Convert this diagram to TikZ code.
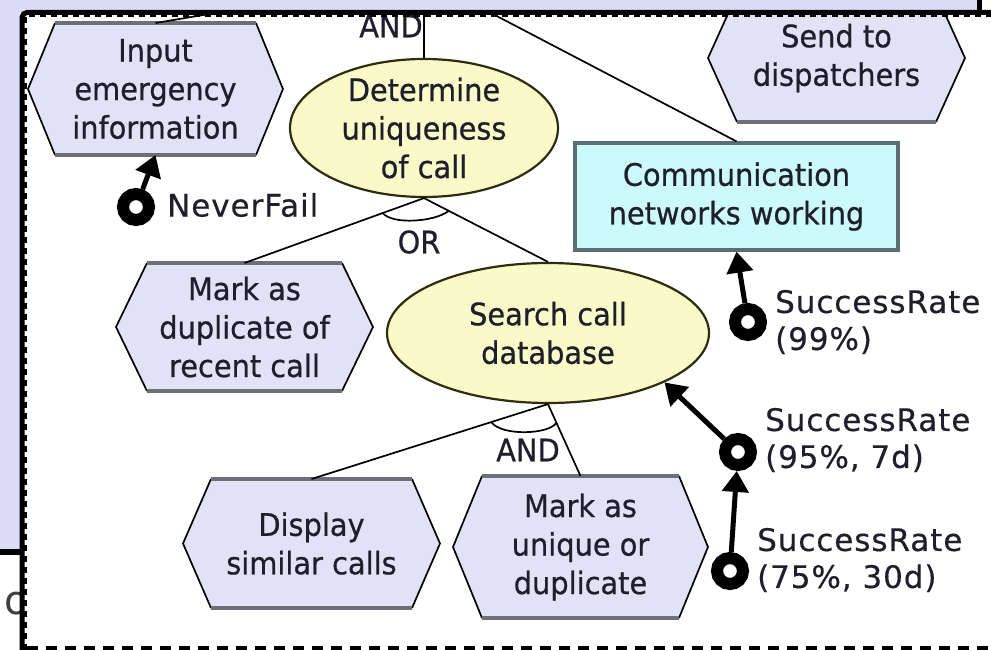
\documentclass[tikz,border=0pt]{standalone}
\usepackage{fontspec}
\setmainfont{DejaVu Sans}
\newfontfamily\goalfont[FakeStretch=0.93, FakeBold=0.6]{DejaVu Sans}
\newfontfamily\qosfont[LetterSpace=3, FakeBold=0.4]{DejaVu Sans}
\usetikzlibrary{calc, positioning, arrows.meta, shapes.geometric}

\definecolor{backlav}{RGB}{220,220,248}
\definecolor{goalfill}{RGB}{226,226,246}
\definecolor{goalline}{RGB}{110,110,118}
\definecolor{taskfill}{RGB}{250,250,200}
\definecolor{taskline}{RGB}{45,45,15}
\definecolor{resfill}{RGB}{204,250,250}
\definecolor{resline}{RGB}{90,112,112}
\definecolor{inktext}{RGB}{30,30,44}

% hexagonal goal: name, centre, width, height, inset, text
\newcommand{\hexgoal}[6]{%
	\node[hexbox, minimum width=#3pt, minimum height=#4pt] (#1) at #2 {};
	\fill[goalfill] (#1.west) -- ($(#1.north west)+(#5,0)$) -- ($(#1.north east)-(#5,0)$)
		-- (#1.east) -- ($(#1.south east)-(#5,0)$) -- ($(#1.south west)+(#5,0)$) -- cycle;
	\draw[goalside] ($(#1.north west)+(#5,0)$) -- (#1.west) -- ($(#1.south west)+(#5,0)$);
	\draw[goalside] ($(#1.north east)-(#5,0)$) -- (#1.east) -- ($(#1.south east)-(#5,0)$);
	\draw[goaledge] ($(#1.north west)+(#5,0)$) -- ($(#1.north east)-(#5,0)$);
	\draw[goaledge] ($(#1.south west)+(#5,0)$) -- ($(#1.south east)-(#5,0)$);
	\node[goaltext] (#1text) at (#1) {#6};
}

\begin{document}
\begin{tikzpicture}[x=1pt, y=-1pt,
		hexbox/.style = {rectangle, inner sep=0pt, outer sep=0pt},
		goaltext/.style = {align=center, inner sep=0pt, text=inktext, font=\goalfont\fontsize{31}{38.5}\selectfont},
		goalside/.style = {draw=black, line width=1.7pt},
		goaledge/.style = {draw=goalline, line width=3.5pt},
		task/.style = {ellipse, draw=taskline, fill=taskfill, line width=2.2pt, inner sep=0pt},
		resource/.style = {rectangle, draw=resline, fill=resfill, line width=3.2pt, minimum width=323pt, minimum height=107pt},
		ring/.style = {circle, draw=black, fill=white, line width=12pt, minimum size=26pt, inner sep=0pt},
		qosarrow/.style = {line width=5pt, -{Triangle[length=21pt, width=26pt]}},
		qoslabel/.style = {align=left, inner sep=0pt, text=inktext, font=\qosfont\fontsize{31}{37}\selectfont},
		link/.style = {line width=1.7pt},
	]
	\fill[white] (0,0) rectangle (991,650);
	\useasboundingbox (0,0) rectangle (991,650);

	\coordinate (topand) at (424,-22);

	% goals
	\hexgoal{inp}{(155.5,89)}{255}{132}{27}{Input\\emergency\\information}
	\hexgoal{dup}{(244.5,327)}{257}{128}{31}{Mark as\\duplicate of\\recent call}
	\hexgoal{disp}{(311.5,543.5)}{257}{129}{28}{Display\\similar calls}
	\hexgoal{uni}{(580.5,547)}{255}{142}{29}{Mark as\\unique or\\duplicate}
	\hexgoal{send}{(836.5,58)}{257}{128}{29}{Send to\\dispatchers}

	% tasks and resource
	\node[task, minimum width=268pt, minimum height=138pt] (uniq) at (424,128) {};
	\node[goaltext] (uniqtext) at (uniq) {Determine\\uniqueness\\of call};
	\node[task, minimum width=322pt, minimum height=140pt] (srch) at (548,333) {};
	\node[goaltext] (srchtext) at (srch) {Search call\\database};
	\node[resource] (comm) at (736.5,196.5) {};
	\node[goaltext] (commtext) at (comm) {Communication\\networks working};

	% refinements
	\draw[link] (inp.north) -- (topand);
	\draw[link] (uniq.north) -- (topand);
	\draw[link] (comm.north) -- (topand);
	\node[goaltext] (andtop) at (391,26) {AND};

	\draw[link] (uniq.south) -- (dup.north);
	\draw[link] (uniq.south) -- (srch.north);
	\draw[link] ($(uniq.south)!0.23!(dup.north)$) .. controls +(10,12) and +(-14,11) .. ($(uniq.south)!0.2!(srch.north)$);
	\node[goaltext] (ortext) at (419,242) {OR};

	\draw[link] (srch.south) -- (disp.north);
	\draw[link] (srch.south) -- (uni.north);
	\draw[link] ($(srch.south)!0.24!(disp.north)$) .. controls +(10,14) and +(-8,12) .. ($(srch.south)!0.26!(uni.north)$);
	\node[goaltext] (andlow) at (528,450) {AND};

	% quality constraints
	\node[ring] (nf) at (136,207) {};
	\node[ring] (r99) at (748,322) {};
	\node[ring] (r95) at (738,452) {};
	\node[ring] (r75) at (730,571) {};

	\draw[qosarrow] (nf) -- (inp.south);
	\draw[qosarrow] (r99) -- (comm.south);
	\draw[qosarrow] (r95) -- (srch.-23);
	\draw[qosarrow] (r75) -- (r95);

	\node[qoslabel, right=12pt of nf, yshift=2pt] (nflab) {NeverFail};
	\node[qoslabel, right=8pt of r99] (r99lab) {SuccessRate\\(99\%)};
	\node[qoslabel, right=8pt of r95, yshift=12pt] (r95lab) {SuccessRate\\(95\%, 7d)};
	\node[qoslabel, right=8pt of r75, yshift=11pt] (r75lab) {SuccessRate\\(75\%, 30d)};

	% frame round the cut-out
	\fill[backlav] (0,0) rectangle (978,12);
	\fill[backlav] (0,0) rectangle (20,551);
	\draw[line width=5pt] (979.5,0) -- (979.5,12);
	\draw[line width=6pt] (0,551.5) -- (22,551.5);
	\begin{scope}
		\clip (0,556) rectangle (20,650);
		\node[text=black!75, font=\fontsize{40}{40}\selectfont, inner sep=0pt] (cut) at (17,604) {o};
	\end{scope}
	\draw[line width=5pt, rounded corners=5pt] (22,650) |- (991,12.5);
	\draw[line width=3pt, dash pattern=on 6pt off 5pt] (25.5,650) |- (991,15.5);
	\draw[line width=4pt, dash pattern=on 11pt off 8pt] (27,648) -- (991,648);
\end{tikzpicture}
\end{document}
